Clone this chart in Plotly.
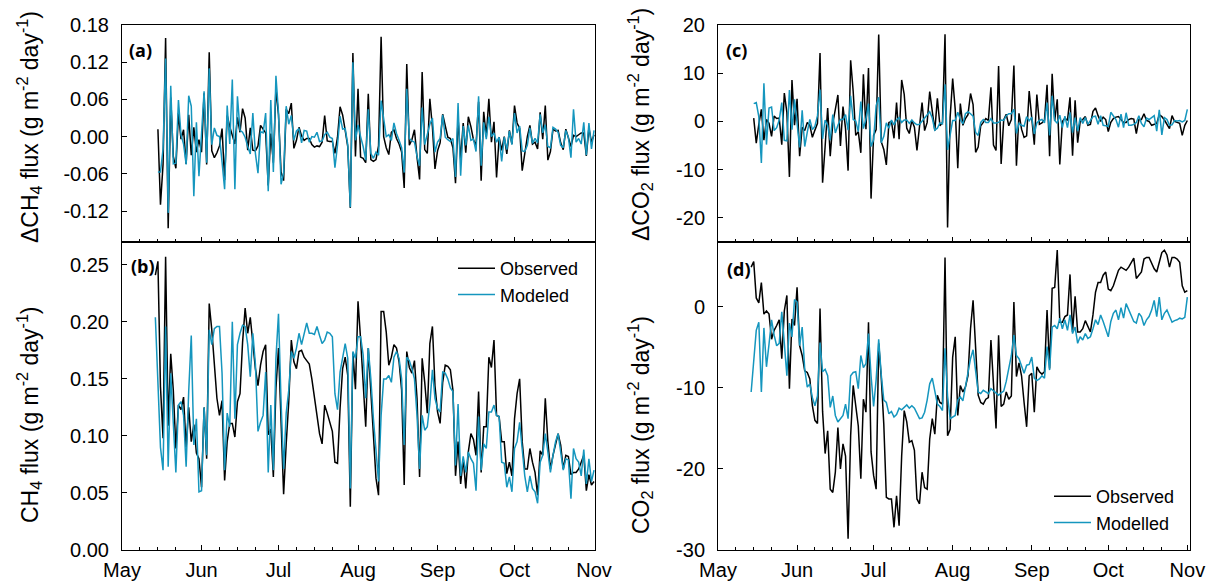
import numpy as np
import pandas as pd
import plotly.graph_objects as go

# Daily fluxes, 14 May to 1 Nov (one value per day, grouped by month)
ch4_obs = [
    0.241, 0.253, 0.143, 0.098, 0.257, 0.109, 0.172, 0.140, 0.089, 0.127, 0.123, 0.134, 0.090, 0.125, 0.095, 0.110, 0.085, 0.080,
    0.055, 0.125, 0.080, 0.216, 0.193, 0.159, 0.133, 0.118, 0.131, 0.061, 0.095, 0.111, 0.111, 0.099, 0.130, 0.137, 0.182,
    0.212, 0.190, 0.204, 0.182, 0.159, 0.144, 0.162, 0.174, 0.180, 0.101, 0.106, 0.064, 0.142,
    0.177, 0.120, 0.049, 0.093, 0.130, 0.184, 0.165, 0.159, 0.174, 0.175, 0.169, 0.166, 0.163, 0.150, 0.133, 0.118,
    0.102, 0.093, 0.127, 0.120, 0.112, 0.104, 0.077, 0.076, 0.124, 0.159, 0.169, 0.153, 0.038, 0.173, 0.141,
    0.218, 0.185, 0.150, 0.108, 0.177, 0.140, 0.100, 0.063, 0.048, 0.209, 0.209, 0.191, 0.162, 0.169, 0.180, 0.177,
    0.165, 0.140, 0.057, 0.174, 0.160, 0.155, 0.166, 0.133, 0.064, 0.168, 0.147, 0.120, 0.181, 0.196, 0.144,
    0.121, 0.111, 0.147, 0.162, 0.161, 0.158, 0.140, 0.065, 0.095, 0.058, 0.080, 0.054, 0.086, 0.102, 0.097,
    0.083, 0.139, 0.068, 0.108, 0.108, 0.169, 0.160, 0.184, 0.118, 0.117, 0.095, 0.095, 0.067, 0.077, 0.065,
    0.115, 0.137, 0.150, 0.095, 0.071, 0.071, 0.089, 0.077, 0.068, 0.048, 0.087, 0.083, 0.133, 0.095, 0.071, 0.083,
    0.092, 0.102, 0.092, 0.071, 0.083, 0.082, 0.066, 0.068, 0.068, 0.071, 0.077, 0.083, 0.052, 0.066, 0.057,
    0.060,
]
ch4_mod = [
    0.204, 0.147, 0.090, 0.070, 0.196, 0.073, 0.155, 0.111, 0.068, 0.127, 0.130, 0.118, 0.073, 0.139, 0.188, 0.092, 0.115, 0.051,
    0.052, 0.125, 0.083, 0.193, 0.180, 0.194, 0.196, 0.196, 0.155, 0.070, 0.120, 0.108, 0.200, 0.115, 0.180, 0.190, 0.197,
    0.196, 0.180, 0.152, 0.190, 0.163, 0.104, 0.112, 0.118, 0.156, 0.068, 0.127, 0.070, 0.168,
    0.207, 0.130, 0.071, 0.120, 0.140, 0.174, 0.168, 0.177, 0.190, 0.180, 0.190, 0.199, 0.190, 0.190, 0.189, 0.196,
    0.188, 0.181, 0.184, 0.191, 0.190, 0.187, 0.137, 0.123, 0.156, 0.168, 0.181, 0.168, 0.054, 0.174, 0.168,
    0.187, 0.187, 0.171, 0.133, 0.177, 0.150, 0.115, 0.090, 0.060, 0.118, 0.150, 0.150, 0.153, 0.147, 0.169, 0.174,
    0.168, 0.150, 0.092, 0.169, 0.166, 0.159, 0.150, 0.118, 0.071, 0.118, 0.105, 0.108, 0.128, 0.158, 0.133,
    0.124, 0.121, 0.156, 0.155, 0.150, 0.142, 0.139, 0.074, 0.128, 0.065, 0.082, 0.068, 0.086, 0.080, 0.076,
    0.052, 0.117, 0.070, 0.093, 0.089, 0.121, 0.121, 0.127, 0.118, 0.117, 0.077, 0.076, 0.055, 0.064, 0.051,
    0.089, 0.095, 0.112, 0.089, 0.065, 0.051, 0.065, 0.054, 0.051, 0.041, 0.077, 0.083, 0.102, 0.086, 0.068, 0.083,
    0.095, 0.102, 0.088, 0.070, 0.080, 0.079, 0.045, 0.089, 0.080, 0.077, 0.065, 0.088, 0.058, 0.080, 0.060,
    0.070,
]
co2_obs = [
    4.9, 5.6, 1.1, 0.5, 3.0, -0.9, -0.5, -0.9, -4.0, -2.9, -2.3, -1.6, -6.4, -0.5, 1.4, -10.1, -1.5, -2.3,
    2.4, -4.8, -6.0, -7.9, -8.1, -8.9, -12.2, -14.0, -14.4, -0.2, -12.9, -18.1, -15.3, -22.5, -22.9,
    -20.4, -14.9, -20.0, -16.9, -18.4, -28.6, -15.9, -9.7, -12.6, -14.7, -21.2, -11.4, -13.0, -1.9, -17.9,
    -20.8, -22.5, -4.5, -8.7, -14.5, -23.5, -23.7, -23.7, -27.2, -23.3, -27.0, -18.4, -12.8, -14.2, -16.7, -16.5,
    -17.7, -23.7, -24.3, -20.4, -22.3, -22.5, -16.3, -13.8, -15.7, -10.9, -11.8, -12.0, 6.1, -15.9, -15.1,
    -6.2, -3.7, -13.4, -9.7, -10.5, -9.9, -8.5, -2.7, 0.8, -5.6, -10.9, -11.8, -12.0, -11.4, -11.2, -4.1,
    -9.0, -15.0, -3.5, -12.3, -12.0, -10.5, -11.4, -11.0, 0.6, -8.6, -6.9, -8.5, -11.8, -14.8, -8.5,
    -8.2, -13.0, -7.4, -8.0, -8.3, -8.0, -0.4, -7.6, 2.3, 2.4, 7.0, -1.9, -1.9, -1.2, -1.0,
    4.0, -3.1, 1.3, -3.1, -3.1, -2.7, -1.7, -2.5, -3.1, -1.0, 1.8, 3.0, 3.0, 3.9, 4.3,
    2.2, 2.0, 2.6, 3.5, 4.5, 4.9, 4.7, 4.5, 4.9, 5.5, 6.0, 3.5, 3.9, 4.3, 5.9, 6.1,
    6.1, 5.3, 4.7, 4.3, 5.7, 6.7, 7.0, 6.4, 4.9, 6.1, 6.1, 5.9, 5.5, 2.6, 1.8,
    2.0,
]
co2_mod = [
    -10.5, -6.8, -2.9, -1.9, -10.5, -2.6, -7.4, -4.6, -1.6, -3.5, -4.8, -4.5, -0.6, -4.5, -8.5, -2.0, -3.7, 0.9,
    0.6, -4.8, -2.5, -7.7, -9.9, -9.5, -11.2, -12.2, -11.0, -4.4, -8.0, -7.7, -8.5, -12.4, -11.0,
    -13.4, -14.2, -13.8, -13.4, -12.0, -13.8, -8.5, -8.1, -8.0, -10.1, -6.0, -7.5, -7.0, -3.3, -8.5,
    -12.3, -9.0, -4.0, -8.4, -11.5, -11.8, -13.2, -12.9, -13.6, -13.3, -12.5, -12.7, -12.4, -12.1, -12.5, -12.2,
    -12.5, -13.2, -13.8, -13.7, -13.0, -11.5, -9.5, -8.8, -10.6, -12.0, -12.3, -12.8, -5.1, -11.0, -13.8,
    -13.6, -13.4, -11.5, -11.1, -11.6, -10.0, -8.0, -6.4, -5.3, -7.6, -10.5, -10.7, -10.3, -10.5, -10.7, -10.1,
    -10.4, -10.7, -10.9, -10.6, -10.4, -9.2, -7.6, -6.0, -3.5, -6.0, -6.4, -7.2, -8.2, -7.2, -7.1,
    -6.2, -8.8, -9.1, -8.9, -8.5, -8.8, -4.9, -7.8, -2.5, -2.3, -2.7, -1.4, -2.7, -1.6, -2.9,
    -1.0, -3.3, -2.5, -4.5, -3.7, -4.1, -3.3, -3.9, -3.7, -2.7, -1.6, -2.2, -1.0, -1.8, -2.7,
    -3.7, -1.8, -0.8, -0.4, -1.6, -0.1, -1.4, 0.4, -0.4, -1.2, -1.8, -2.0, -0.8, -1.2, -2.3, -1.6,
    -1.2, -0.4, 0.8, -1.2, 1.2, -1.6, -0.8, -0.4, -1.2, -1.9, -1.7, -1.6, -1.4, -1.5, -1.3,
    1.2,
]

month_starts = ["2014-05-01", "2014-06-01", "2014-07-01", "2014-08-01",
                "2014-09-01", "2014-10-01", "2014-11-01"]
month_labels = ["May", "Jun", "Jul", "Aug", "Sep", "Oct", "Nov"]

dates = pd.date_range("2014-05-14", periods=len(ch4_obs), freq="D")

# day-to-day change in flux
d_ch4_obs = np.diff(ch4_obs)
d_ch4_mod = np.diff(ch4_mod)
d_co2_obs = np.diff(co2_obs)
d_co2_mod = np.diff(co2_mod)
d_dates = dates[1:]

BLACK = "#000000"
TEAL = "#1596BE"
W, H = 1206, 583
FONT = "Liberation Sans, Arial, sans-serif"


def fx(p):
    return p / W


def fy(p):
    return 1 - p / H


fig = go.Figure()

panels = [
    # (xaxis, yaxis, x-values, observed, modelled, legend, modelled name)
    ("x", "y", d_dates, d_ch4_obs, d_ch4_mod, None, "Modeled"),
    ("x2", "y2", dates, ch4_obs, ch4_mod, "legend", "Modeled"),
    ("x3", "y3", d_dates, d_co2_obs, d_co2_mod, None, "Modelled"),
    ("x4", "y4", dates, co2_obs, co2_mod, "legend2", "Modelled"),
]
for xa, ya, xs, obs, mod, leg, mname in panels:
    show = leg is not None
    fig.add_trace(go.Scatter(x=xs, y=obs, mode="lines", name="Observed",
                             line=dict(color=BLACK, width=1.5),
                             xaxis=xa, yaxis=ya, showlegend=show,
                             legend=leg if show else "legend"))
    fig.add_trace(go.Scatter(x=xs, y=mod, mode="lines", name=mname,
                             line=dict(color=TEAL, width=1.5),
                             xaxis=xa, yaxis=ya, showlegend=show,
                             legend=leg if show else "legend"))

minor_days = []
for m in range(5, 11):
    for d in (8, 15, 22):
        minor_days.append(f"2014-{m:02d}-{d:02d}")

tickfont = dict(family=FONT, size=20, color="black")


def xaxis(domain, rng, labels):
    return dict(
        domain=domain, type="date", range=rng, automargin=False,
        tickmode="array", tickvals=month_starts, ticktext=month_labels,
        showticklabels=labels, ticks="inside", ticklen=5, tickwidth=1,
        tickcolor="black", showline=True, linecolor="black", linewidth=1,
        mirror=True, showgrid=False, zeroline=False, tickfont=tickfont,
        ticklabelstandoff=2,
        minor=dict(tickmode="array", tickvals=minor_days, ticks="inside",
                   ticklen=3, tickwidth=1, tickcolor="black", showgrid=False),
    )


def yaxis(domain, rng, vals, texts, anchor):
    return dict(
        domain=domain, range=rng, anchor=anchor, automargin=False,
        tickmode="array", tickvals=vals, ticktext=texts,
        ticks="inside", ticklen=5, tickwidth=1, tickcolor="black",
        showline=True, linecolor="black", linewidth=1, mirror=True,
        showgrid=False, zeroline=False, tickfont=tickfont,
        ticklabelstandoff=8,
    )


left_dom = [fx(122), fx(595)]
right_dom = [fx(718), fx(1190)]
top_dom = [fy(242), fy(25)]
bot_dom = [fy(550), fy(242)]
left_rng = ["2014-05-01", "2014-11-01 09:00"]
right_rng = ["2014-05-01", "2014-11-02 01:00"]

a_vals = [-0.12, -0.06, 0.0, 0.06, 0.12, 0.18]
b_vals = [0.0, 0.05, 0.10, 0.15, 0.20, 0.25]
c_vals = [-20, -10, 0, 10, 20]
d_vals = [-30, -20, -10, 0]

legend_style = dict(xanchor="left", yanchor="top", bgcolor="rgba(0,0,0,0)",
                    font=dict(family=FONT, size=18), tracegroupgap=0,
                    itemwidth=37)

fig.update_layout(
    width=W, height=H, margin=dict(l=0, r=0, t=0, b=0, autoexpand=False),
    paper_bgcolor="white", plot_bgcolor="white",
    font=dict(family=FONT, size=18, color="black"),
    xaxis=xaxis(left_dom, left_rng, False) | dict(anchor="y"),
    xaxis2=xaxis(left_dom, left_rng, True) | dict(anchor="y2"),
    xaxis3=xaxis(right_dom, right_rng, False) | dict(anchor="y3"),
    xaxis4=xaxis(right_dom, right_rng, True) | dict(anchor="y4"),
    yaxis=yaxis(top_dom, [-0.17, 0.18], a_vals,
                [f"{v:.2f}" for v in a_vals], "x"),
    yaxis2=yaxis(bot_dom, [0, 0.27], b_vals,
                 [f"{v:.2f}" for v in b_vals], "x2"),
    yaxis3=yaxis(top_dom, [-25, 20], c_vals, [str(v) for v in c_vals], "x3"),
    yaxis4=yaxis(bot_dom, [-30, 8], d_vals, [str(v) for v in d_vals], "x4"),
    legend=dict(x=fx(453), y=fy(250), **legend_style),
    legend2=dict(x=fx(1049), y=fy(478), **legend_style),
)

unit = " flux (g m<sup>-2</sup> day<sup>-1</sup>)"
titles = [
    ("\u0394CH<sub>4</sub>" + unit, 29, 127),
    ("CH<sub>4</sub>" + unit, 29, 415),
    ("\u0394CO<sub>2</sub>" + unit, 640, 125),
    ("CO<sub>2</sub>" + unit, 640, 425),
]
for text, px, py in titles:
    fig.add_annotation(text=text, x=fx(px), y=fy(py), xref="paper", yref="paper",
                       textangle=-90, showarrow=False, xanchor="center",
                       yanchor="middle", font=dict(family=FONT, size=23))

labels = [("(a)", 127, 50), ("(b)", 129, 266), ("(c)", 724, 50), ("(d)", 725, 269)]
for text, px, py in labels:
    fig.add_annotation(text=f"<b>{text}</b>", x=fx(px), y=fy(py), xref="paper",
                       yref="paper", showarrow=False, xanchor="left",
                       yanchor="middle",
                       font=dict(family="Open Sans, sans-serif", size=18))

fig.write_html("out.html")
